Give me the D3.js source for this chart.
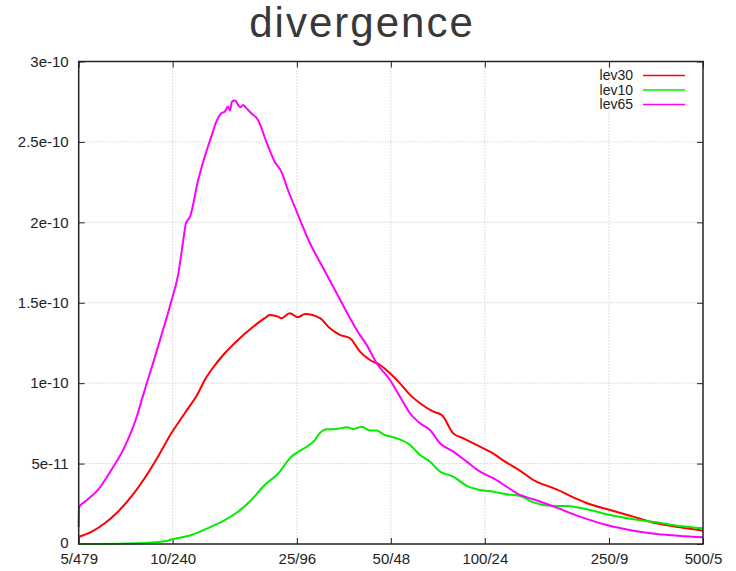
<!DOCTYPE html>
<html>
<head>
<meta charset="utf-8">
<script src="https://cdn.jsdelivr.net/npm/d3@7"></script>
<style>
	body { margin: 0; background: #fff; }
	text { font-family: "Liberation Sans", Arial, sans-serif; }
</style>
</head>
<body>
<div id="chart"></div>
<script>
/**
 * Data (x is the first number of each "n/m" label, plotted on a log axis)
 */
const xTicks = [5, 10, 25, 50, 100, 250, 500];
const xTickLabels = ["5/479", "10/240", "25/96", "50/48", "100/24", "250/9", "500/5"];
const yTicks = [0, 5e-11, 1e-10, 1.5e-10, 2e-10, 2.5e-10, 3e-10];
const yTickLabels = ["0", "5e-11", "1e-10", "1.5e-10", "2e-10", "2.5e-10", "3e-10"];
const seriesNames = ["lev30", "lev10", "lev65"];
const yUnit = 1e-11;

const lev30X = [5.00, 5.49, 6.06, 6.68, 7.37, 8.13, 8.97, 9.90, 10.93, 12.06, 12.67, 13.30, 14.68, 16.19, 17.86, 19.72, 20.46, 21.75, 22.29, 23.71, 25.20, 26.54, 29.64, 31.91, 34.36, 36.99, 39.82, 42.86, 46.15, 49.69, 53.49, 57.59, 62.01, 68.39, 72.77, 79.26, 85.35, 96.53, 103.9, 117.5, 129.6, 143.0, 169.9, 192.1, 217.3, 251.8, 299.0, 355.4, 422.1, 500];
const lev30Y = [0.45, 0.76, 1.29, 2.01, 2.94, 4.09, 5.43, 6.88, 8.13, 9.37, 10.20, 10.82, 11.86, 12.69, 13.41, 14.04, 14.24, 14.14, 14.04, 14.35, 14.10, 14.30, 14.04, 13.41, 13.00, 12.79, 11.96, 11.44, 11.13, 10.62, 9.99, 9.27, 8.75, 8.23, 8.02, 6.88, 6.57, 6.05, 5.74, 5.06, 4.56, 3.98, 3.40, 2.90, 2.47, 2.11, 1.70, 1.29, 1.04, 0.83];

const lev10X = [5.00, 6.78, 7.74, 8.54, 9.43, 9.90, 11.47, 13.30, 14.68, 16.19, 17.86, 19.72, 21.75, 23.99, 25.58, 26.87, 28.57, 29.27, 31.14, 33.53, 36.10, 37.90, 40.32, 42.86, 45.04, 47.28, 52.21, 57.59, 62.01, 66.75, 71.86, 79.26, 87.52, 96.53, 106.4, 117.5, 129.6, 143.0, 161.7, 183.0, 212.1, 251.8, 299.0, 355.4, 422.1, 500];
const lev10Y = [0.00, 0.01, 0.04, 0.09, 0.17, 0.28, 0.56, 1.08, 1.49, 2.01, 2.74, 3.67, 4.37, 5.43, 5.80, 6.05, 6.47, 6.78, 7.13, 7.15, 7.26, 7.15, 7.29, 7.05, 7.05, 6.82, 6.57, 6.16, 5.53, 5.12, 4.50, 4.19, 3.61, 3.36, 3.25, 3.09, 2.99, 2.59, 2.38, 2.36, 2.16, 1.80, 1.54, 1.35, 1.12, 0.98];

const lev65X = [5.00, 5.01, 5.23, 5.76, 6.36, 7.02, 7.74, 7.96, 8.26, 8.78, 9.45, 9.86, 10.43, 10.82, 11.03, 11.37, 12.06, 12.67, 13.30, 13.80, 14.32, 14.68, 15.04, 15.26, 15.49, 15.87, 16.19, 16.47, 16.80, 17.21, 17.86, 18.77, 19.95, 21.23, 22.29, 23.41, 24.96, 27.53, 30.37, 33.53, 36.99, 38.86, 41.83, 45.04, 49.69, 53.49, 57.59, 62.01, 66.75, 71.86, 79.26, 87.52, 96.53, 106.4, 117.5, 129.6, 143.0, 169.9, 201.8, 245.7, 299.0, 355.4, 422.1, 500];
const lev65Y = [1.06, 2.30, 2.63, 3.36, 4.60, 6.05, 8.15, 8.96, 9.99, 11.65, 13.73, 14.97, 16.83, 18.91, 19.94, 20.35, 22.60, 24.09, 25.33, 26.26, 26.78, 26.88, 27.20, 26.95, 27.51, 27.57, 27.30, 27.16, 27.30, 27.10, 26.78, 26.37, 25.02, 23.77, 23.15, 22.01, 20.67, 18.70, 17.15, 15.59, 14.04, 13.31, 12.38, 11.24, 10.20, 9.16, 8.13, 7.51, 7.09, 6.26, 5.74, 5.12, 4.50, 4.09, 3.56, 3.05, 2.78, 2.26, 1.70, 1.18, 0.83, 0.62, 0.50, 0.42];

const seriesX = [lev30X, lev10X, lev65X];
const seriesY = [lev30Y, lev10Y, lev65Y];

/**
 * Layout & styles
 */
let width = 736;
let height = 571;
let margin = { top: 61.5, right: 33, bottom: 27, left: 78.7 };
let colors = ["#ff0000", "#00ee00", "#ff00ff"];
let chartW = width - margin.left - margin.right;
let chartH = height - margin.top - margin.bottom;

let svg = d3.select("#chart").append("svg")
	.attr("width", width)
	.attr("height", height);

// Title
svg.append("text")
	.attr("x", 362)
	.attr("y", 37)
	.attr("text-anchor", "middle")
	.style("font-size", "42px")
	.style("letter-spacing", "2px")
	.style("fill", "#383838")
	.text("divergence");

let chart = svg.append("g")
	.attr("transform", "translate(" + margin.left + "," + margin.top + ")");

// Scales
let xScale = d3.scaleLog()
	.domain([xTicks[0], xTicks[xTicks.length - 1]])
	.range([0, chartW]);

let yScale = d3.scaleLinear()
	.domain([yTicks[0], yTicks[yTicks.length - 1]])
	.range([chartH, 0]);

// Grid (dotted)
let grid = chart.append("g").classed("grid", true)
	.attr("stroke", "#bdbdbd")
	.attr("stroke-width", 1)
	.attr("stroke-dasharray", "1,2");

grid.selectAll(".vGrid")
	.data(xTicks.slice(1, -1))
	.enter().append("line")
	.attr("x1", d => xScale(d)).attr("x2", d => xScale(d))
	.attr("y1", 0).attr("y2", chartH);

grid.selectAll(".hGrid")
	.data(yTicks.slice(1, -1))
	.enter().append("line")
	.attr("y1", d => yScale(d)).attr("y2", d => yScale(d))
	.attr("x1", 0).attr("x2", chartW);

// Axes, ticks pointing inward, mirrored on top and right
let fmtX = d => xTickLabels[xTicks.indexOf(d)];
let fmtY = d => yTickLabels[yTicks.indexOf(d)];

let xAxis = d3.axisBottom(xScale).tickValues(xTicks).tickFormat(fmtX)
	.tickSizeInner(-6).tickSizeOuter(0).tickPadding(9);
let yAxis = d3.axisLeft(yScale).tickValues(yTicks).tickFormat(fmtY)
	.tickSizeInner(-6).tickSizeOuter(0).tickPadding(10);

chart.append("g").classed("xAxis axis", true)
	.attr("transform", "translate(0," + chartH + ")")
	.call(xAxis);
chart.append("g").classed("xAxisTop axis", true)
	.call(d3.axisTop(xScale).tickValues(xTicks).tickFormat("").tickSizeInner(-6).tickSizeOuter(0));
chart.append("g").classed("yAxis axis", true)
	.call(yAxis);
chart.append("g").classed("yAxisRight axis", true)
	.attr("transform", "translate(" + chartW + ",0)")
	.call(d3.axisRight(yScale).tickValues(yTicks).tickFormat("").tickSizeInner(-6).tickSizeOuter(0));

chart.selectAll(".axis .domain").remove();
chart.selectAll(".axis line").attr("stroke", "#222");
chart.selectAll(".axis text")
	.style("font-size", "15px")
	.style("font-family", "\"Liberation Sans\", Arial, sans-serif")
	.attr("fill", "#222");

// the "0" label sits a touch higher so it clears the first x label
chart.select(".yAxis").selectAll(".tick text")
	.filter(d => d === 0)
	.attr("dy", "0.2em");

// Series lines
let line = d3.line()
	.curve(d3.curveMonotoneX)
	.x(d => xScale(d[0]))
	.y(d => yScale(d[1] * yUnit));

seriesNames.forEach(function(name, i) {
	let pts = seriesX[i].map((x, j) => [x, seriesY[i][j]]);
	chart.append("path")
		.datum(pts)
		.attr("class", "series " + name)
		.attr("fill", "none")
		.attr("stroke", colors[i])
		.attr("stroke-width", 2)
		.attr("stroke-linejoin", "round")
		.attr("d", line);
});

// Frame
chart.append("rect")
	.attr("width", chartW)
	.attr("height", chartH)
	.attr("fill", "none")
	.attr("stroke", "#222")
	.attr("stroke-width", 1.5);

// Legend
let legend = chart.append("g").classed("legend", true)
	.attr("transform", "translate(" + (chartW - 70) + ",14)");

let legendRow = legend.selectAll(".legendRow")
	.data(seriesNames)
	.enter().append("g")
	.attr("transform", (d, i) => "translate(0," + (i * 14.5) + ")");

legendRow.append("text")
	.attr("x", 0)
	.attr("dy", "0.35em")
	.attr("text-anchor", "end")
	.style("font-size", "14px")
	.attr("fill", "#222")
	.text(d => d);

legendRow.append("line")
	.attr("x1", 10).attr("x2", 52)
	.attr("stroke", (d, i) => colors[i])
	.attr("stroke-width", 1.5);
</script>
</body>
</html>
